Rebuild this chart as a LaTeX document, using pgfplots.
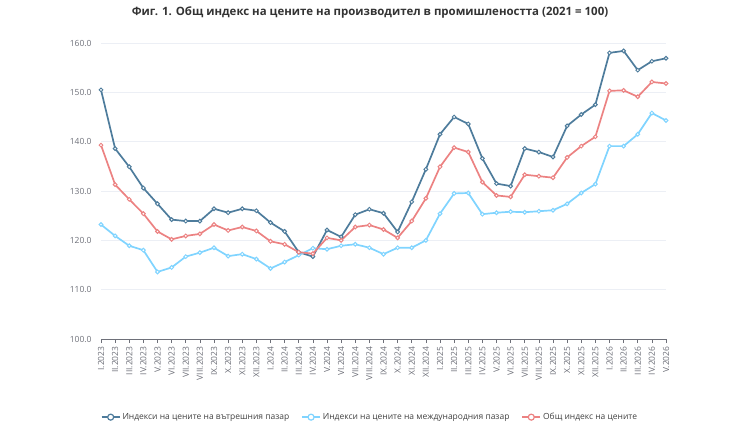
\documentclass[border=0pt]{standalone}
\usepackage{pgfplots}
\pgfplotsset{compat=1.18}
\usepackage{fontspec}
\setmainfont{Open Sans}
\definecolor{domestic}{RGB}{78,124,156}
\definecolor{foreign}{RGB}{128,212,255}
\definecolor{total}{RGB}{236,130,130}
\definecolor{gridc}{RGB}{236,239,245}
\definecolor{tickc}{RGB}{110,112,121}
\definecolor{axisc}{RGB}{110,112,121}

% Monthly indices, 2021 = 100 (I.2023 ... V.2026)
\pgfplotstableread{
x dom int tot
0 150.5 123.2 139.3
1 138.6 120.9 131.3
2 134.9 118.9 128.3
3 130.6 118.0 125.4
4 127.4 113.6 121.8
5 124.2 114.5 120.2
6 123.9 116.7 120.9
7 123.9 117.5 121.3
8 126.4 118.5 123.2
9 125.6 116.8 122.0
10 126.4 117.2 122.7
11 126.0 116.2 121.9
12 123.6 114.3 119.8
13 121.8 115.6 119.2
14 117.6 117.0 117.6
15 116.7 118.4 117.3
16 122.1 118.2 120.5
17 120.7 118.9 120.0
18 125.2 119.2 122.7
19 126.3 118.5 123.1
20 125.5 117.2 122.2
21 121.7 118.5 120.5
22 127.8 118.5 123.9
23 134.4 120.0 128.5
24 141.5 125.4 134.9
25 145.0 129.5 138.8
26 143.6 129.6 137.9
27 136.6 125.3 131.8
28 131.5 125.6 129.1
29 131.0 125.8 128.8
30 138.6 125.7 133.3
31 137.9 125.9 133.0
32 136.9 126.1 132.7
33 143.2 127.4 136.8
34 145.5 129.6 139.1
35 147.5 131.4 141.0
36 158.0 139.1 150.3
37 158.4 139.1 150.4
38 154.5 141.5 149.1
39 156.3 145.8 152.1
40 156.9 144.3 151.8
}\prices

\begin{document}
\begin{tikzpicture}
\useasboundingbox (0,0) rectangle (740bp,-427bp);
\node[font=\fontsize{11.5}{13}\selectfont\bfseries, text=black!80] at (370bp,-12bp)
  {Фиг. 1. Общ индекс на цените на производител в промишлеността (2021 = 100)};
\begin{axis}[
  at={(101bp,-339bp)}, anchor=south west,
  scale only axis, width=565bp, height=296bp,
  xmin=0, xmax=40, ymin=100, ymax=160,
  ytick={100,110,...,160},
  yticklabel style={/pgf/number format/fixed, /pgf/number format/fixed zerofill,
    /pgf/number format/precision=1, /pgf/number format/assume math mode=true,
    font=\fontsize{8.5}{10}\selectfont, text=tickc, xshift=-2bp},
  ymajorgrids, grid style={gridc, line width=0.8bp},
  axis y line*=left, y axis line style={draw=none},
  ytick style={draw=none},
  axis x line*=bottom, x axis line style={axisc, line width=0.6bp},
  xtick={0,...,40},
  xticklabels={I.2023,II.2023,III.2023,IV.2023,V.2023,VI.2023,VII.2023,VIII.2023,IX.2023,X.2023,XI.2023,XII.2023,
    I.2024,II.2024,III.2024,IV.2024,V.2024,VI.2024,VII.2024,VIII.2024,IX.2024,X.2024,XI.2024,XII.2024,
    I.2025,II.2025,III.2025,IV.2025,V.2025,VI.2025,VII.2025,VIII.2025,IX.2025,X.2025,XI.2025,XII.2025,
    I.2026,II.2026,III.2026,IV.2026,V.2026},
  xticklabel style={rotate=90, anchor=east, font=\fontsize{8.5}{10}\selectfont, text=tickc},
  xtick style={axisc, line width=0.6bp},
  major tick length=4bp,
  tick align=outside,
  every axis plot/.append style={line width=1.7bp, mark=*, mark size=1.9bp,
    mark options={fill=white, line width=1bp}},
  legend columns=3,
  legend style={at={(0.476,-0.264)}, anchor=center, draw=none, fill=none,
    font=\fontsize{8.5}{10}\selectfont, text=black!75,
    /tikz/every even column/.append style={column sep=10bp}},
  legend image code/.code={
    \draw[#1, mark=none] (0bp,0bp) -- (18bp,0bp);
    \draw[#1, only marks, mark options={fill=white, line width=1.2bp}, mark size=3bp] plot coordinates {(9bp,0bp)};
  },
  clip=false,
]
\addplot[domestic] table[x=x, y=dom] {\prices};
\addlegendentry{Индекси на цените на вътрешния пазар}
\addplot[foreign] table[x=x, y=int] {\prices};
\addlegendentry{Индекси на цените на международния пазар}
\addplot[total] table[x=x, y=tot] {\prices};
\addlegendentry{Общ индекс на цените}
\end{axis}
\end{tikzpicture}
\end{document}
